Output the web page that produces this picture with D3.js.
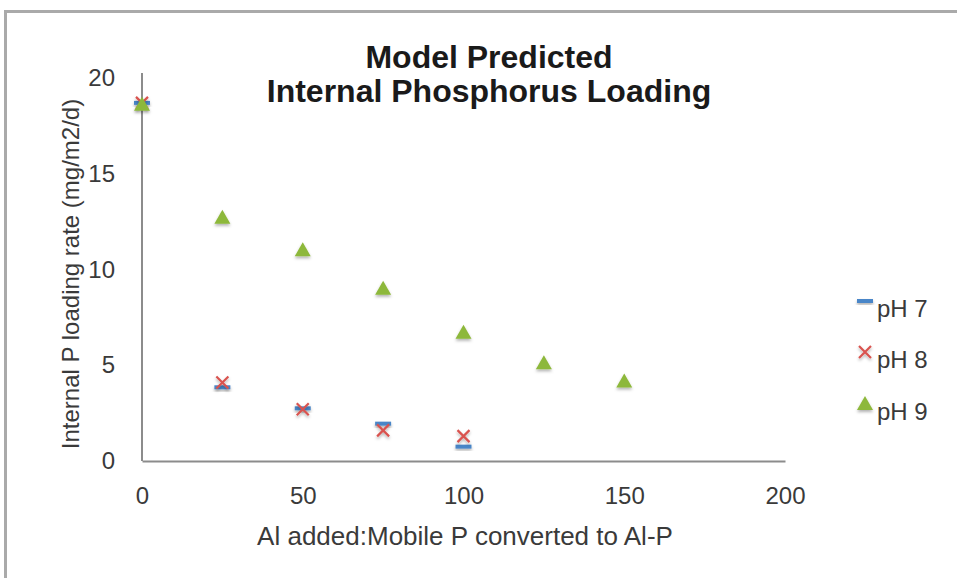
<!DOCTYPE html>
<html><head><meta charset="utf-8">
<script src="https://cdn.jsdelivr.net/npm/d3@7"></script>
<style>body{margin:0;background:#fff}svg{display:block;font-family:"Liberation Sans",Arial,sans-serif}</style>
</head><body>
<svg id="c" width="957" height="578"></svg>
<script>
const xValsAll = [0, 25, 50, 75, 100, 125, 150];
const ph7 = [18.7, 3.85, 2.75, 1.95, 0.75];
const ph8 = [18.7, 4.1, 2.7, 1.6, 1.3];
const ph9 = [18.6, 12.7, 11.0, 9.0, 6.7, 5.1, 4.15];
const xTicks = [0, 50, 100, 150, 200];
const yTicks = [0, 5, 10, 15, 20];
const seriesNames = ["pH 7", "pH 8", "pH 9"];
const colors = ["#4a86c8", "#d9534f", "#8db83a"];

const svg = d3.select("#c");
const defs = svg.append("defs");
const f = defs.append("filter").attr("id","sh").attr("x","-50%").attr("y","-50%").attr("width","200%").attr("height","200%");
f.append("feDropShadow").attr("dx",0).attr("dy",2).attr("stdDeviation",1.5).attr("flood-color","#000").attr("flood-opacity",0.3);

// frame
svg.append("path").attr("d","M5.5,578 L5.5,11.5 L957,11.5").attr("fill","none").attr("stroke","#aaa").attr("stroke-width",3);

const x = d3.scaleLinear().domain([0,200]).range([142,785]);
const y = d3.scaleLinear().domain([0,20]).range([461,78]);

const gx = svg.append("g").attr("transform","translate(0,461)").call(d3.axisBottom(x).tickValues(xTicks).tickSize(0).tickPadding(26));
const gy = svg.append("g").attr("transform","translate(142,0)").call(d3.axisLeft(y).tickValues(yTicks).tickSize(0).tickPadding(27));
gy.select(".domain").attr("d","M0,73V461");
[gx,gy].forEach(g=>{
  g.select(".domain").attr("stroke","#8c8c8c").attr("stroke-width",2);
  g.selectAll("text").attr("font-size",24).attr("fill","#3a3a3a").attr("font-family","Liberation Sans, Arial, sans-serif");
});

svg.append("text").attr("x",489).attr("y",68).attr("text-anchor","middle").attr("font-size",32).attr("font-weight","bold").attr("fill","#1a1a1a").text("Model Predicted");
svg.append("text").attr("x",489).attr("y",102).attr("text-anchor","middle").attr("font-size",32).attr("font-weight","bold").attr("fill","#1a1a1a").text("Internal Phosphorus Loading");

svg.append("text").attr("x",465).attr("y",545).attr("text-anchor","middle").attr("font-size",26).attr("fill","#3a3a3a").text("Al added:Mobile P converted to Al-P");
svg.append("text").attr("transform","translate(79,274) rotate(-90)").attr("text-anchor","middle").attr("font-size",24).attr("fill","#3a3a3a").text("Internal P loading rate (mg/m2/d)");

function marker(g, i, cx, cy){
  if(i===0){
    g.append("rect").attr("x",cx-8).attr("y",cy-2).attr("width",16).attr("height",4).attr("fill",colors[0]).attr("filter","url(#sh)");
  } else if(i===1){
    g.append("path").attr("d",`M${cx-6},${cy-6}L${cx+6},${cy+6}M${cx+6},${cy-6}L${cx-6},${cy+6}`).attr("stroke",colors[1]).attr("stroke-width",2.2).attr("fill","none").attr("filter","url(#sh)");
  } else {
    g.append("path").attr("d",`M${cx},${cy-8}L${cx+8},${cy+6}L${cx-8},${cy+6}Z`).attr("fill",colors[2]).attr("filter","url(#sh)");
  }
}
const data = [ph7, ph8, ph9];
const pts = svg.append("g");
data.forEach((arr,i)=>{
  arr.forEach((v,j)=>{ marker(pts, i, x(xValsAll[j]), y(v)); });
});

// legend
const legY = [317, 368, 420];
seriesNames.forEach((n,i)=>{
  const lg = svg.append("g");
  marker(lg, i, 865, legY[i]-16);
  lg.append("text").attr("x",877).attr("y",legY[i]).attr("font-size",24).attr("fill","#3a3a3a").text(n);
});
</script>
</body></html>
